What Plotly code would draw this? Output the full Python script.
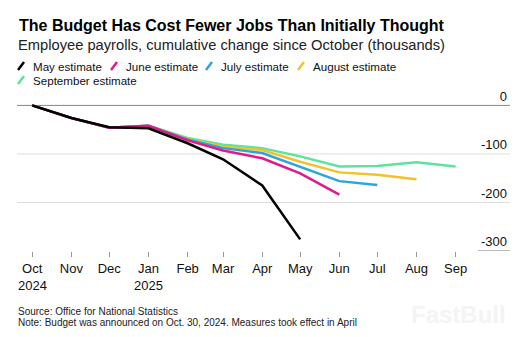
import plotly.graph_objects as go

months = ["2024-10-01", "2024-11-01", "2024-12-01", "2025-01-01", "2025-02-01", "2025-03-01",
          "2025-04-01", "2025-05-01", "2025-06-01", "2025-07-01", "2025-08-01", "2025-09-01"]
month_labels = ["Oct", "Nov", "Dec", "Jan", "Feb", "Mar",
                "Apr", "May", "Jun", "Jul", "Aug", "Sep"]
year_labels = {"2024-10-01": "2024", "2025-01-01": "2025"}

may_est = [0, -26, -45, -47, -78, -111, -165, -276]
june_est = [0, -26, -46, -42, -72, -93, -109, -140, -184]
july_est = [0, -26, -46, -42, -70, -88, -98, -126, -156, -164]
aug_est = [0, -26, -46, -42, -69, -85, -92, -116, -138, -143, -152]
sep_est = [0, -26, -46, -42, -67, -81, -88, -105, -126, -125, -117, -126]

series_names = ["May estimate", "June estimate", "July estimate", "August estimate", "September estimate"]
series_values = [may_est, june_est, july_est, aug_est, sep_est]
series_colors = ["#000000", "#e3198a", "#2aa5de", "#f3c12a", "#5ce39e"]

y_ticks = [0, -100, -200, -300]

W, H = 526, 337
L, R, T, B = 17, 16, 86, 86
PW, PH = W - L - R, H - T - B

def px(x):
    return (x - L) / PW

def py(y):
    return (H - B - y) / PH

fig = go.Figure()
for name, vals, col in reversed(list(zip(series_names, series_values, series_colors))):
    fig.add_trace(go.Scatter(x=months[:len(vals)], y=vals, mode="lines", name=name,
                             line=dict(color=col, width=2.5), showlegend=False))

shapes = []
for v in y_ticks:
    if v == y_ticks[-1]:
        shapes.append(dict(type="line", xref="paper", yref="y", x0=px(478), x1=1, y0=v, y1=v,
                           line=dict(color="#777777", width=1), layer="below"))
    else:
        shapes.append(dict(type="line", xref="paper", yref="y", x0=0, x1=1, y0=v, y1=v,
                           line=dict(color="#888888" if v == 0 else "#dddddd", width=1), layer="below"))

annotations = []
font = "Arial, Liberation Sans, Helvetica, sans-serif"
annotations.append(dict(text="<b>The Budget Has Cost Fewer Jobs Than Initially Thought</b>", xref="paper", yref="paper",
                        x=px(17), y=py(25), xanchor="left", yanchor="middle", showarrow=False,
                        font=dict(family=font, size=16, color="#000000")))
annotations.append(dict(text="Employee payrolls, cumulative change since October (thousands)", xref="paper", yref="paper",
                        x=px(16), y=py(45), xanchor="left", yanchor="middle", showarrow=False,
                        font=dict(family=font, size=14.7, color="#222222")))

leg_pos = [(17, 66), (110, 66), (205, 66), (297, 66), (17, 80)]
for (lx, ly), name, col in zip(leg_pos, series_names, series_colors):
    shapes.append(dict(type="line", xref="paper", yref="paper", x0=px(lx + 1), y0=py(ly + 4),
                       x1=px(lx + 7), y1=py(ly - 4), line=dict(color=col, width=2.5)))
    annotations.append(dict(text=name, xref="paper", yref="paper", x=px(lx + 14), y=py(ly),
                            xanchor="left", yanchor="middle", showarrow=False,
                            font=dict(family=font, size=11.6, color="#111111")))

for d, yl in year_labels.items():
    annotations.append(dict(text=yl, xref="x", yref="paper", x=d, y=py(276), xanchor="center",
                            yanchor="top", showarrow=False,
                            font=dict(family=font, size=13, color="#111111")))

annotations.append(dict(text="Source: Office for National Statistics", xref="paper", yref="paper",
                        x=px(16), y=py(311), xanchor="left", yanchor="middle", showarrow=False,
                        font=dict(family=font, size=10, color="#222222")))
annotations.append(dict(text="Note: Budget was announced on Oct. 30, 2024. Measures took effect in April",
                        xref="paper", yref="paper", x=px(16), y=py(322), xanchor="left", yanchor="middle",
                        showarrow=False, font=dict(family=font, size=10, color="#222222")))
annotations.append(dict(text="<b>FastBull</b>", xref="paper", yref="paper", x=px(508), y=py(314),
                        xanchor="right", yanchor="middle", showarrow=False,
                        font=dict(family=font, size=24, color="#f4f4f4")))

fig.update_layout(
    width=W, height=H,
    margin=dict(l=L, r=R, t=T, b=B, pad=0),
    paper_bgcolor="white", plot_bgcolor="white",
    showlegend=False,
    shapes=shapes, annotations=annotations,
    xaxis=dict(type="date", range=["2024-09-19", "2025-10-14"], tickvals=months, ticktext=month_labels,
               showgrid=False, zeroline=False, showline=False, ticks="outside", ticklen=5,
               tickcolor="#999999", tickwidth=1, tickfont=dict(family=font, size=13, color="#111111")),
    yaxis=dict(range=[-300, 40], side="right", tickvals=y_ticks, ticktext=[str(v) for v in y_ticks],
               ticklabelposition="inside top", showgrid=False, zeroline=False, showline=False,
               tickfont=dict(family=font, size=13, color="#111111")),
)

fig.write_html("out.html")
